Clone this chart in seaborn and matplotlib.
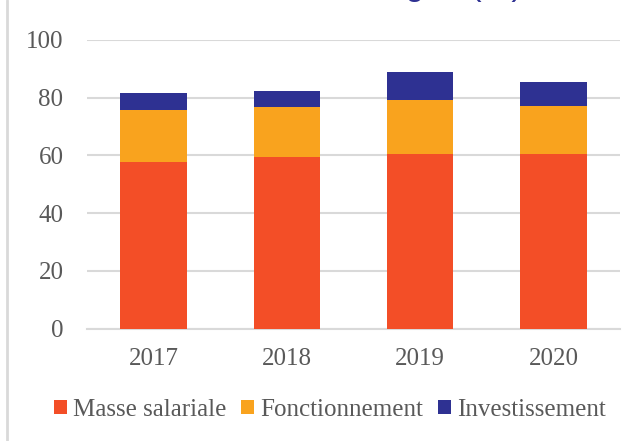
import matplotlib
matplotlib.use("Agg")
import matplotlib.pyplot as plt
import seaborn as sns
import pandas as pd
import numpy as np
from matplotlib.lines import Line2D
from matplotlib.patches import Patch

years = ["2017", "2018", "2019", "2020"]
masse = [57.8, 59.5, 60.5, 60.5]
fonct = [17.9, 17.2, 18.7, 16.7]
invest = [5.8, 5.8, 9.6, 8.1]
series_names = ["Masse salariale", "Fonctionnement", "Investissement"]
colors = ["#F34E27", "#F9A31E", "#2E3192"]
yticks = [0, 20, 40, 60, 80, 100]

sns.set_theme(style="white")
plt.rcParams["font.family"] = ["Liberation Serif", "DejaVu Serif"]

fig = plt.figure(figsize=(6.38, 4.41), dpi=100)
ax = fig.add_axes([87/638, 1-328.7/441, (620-87)/638, (328.7-40)/441])

df = pd.DataFrame({"year": years, "m": masse, "f": fonct, "i": invest})
df["c1"] = df["m"]
df["c2"] = df["m"] + df["f"]
df["c3"] = df["m"] + df["f"] + df["i"]

for col, color in zip(["c3", "c2", "c1"], colors[::-1]):
    sns.barplot(data=df, x="year", y=col, color=color, width=0.5,
                saturation=1, ax=ax, zorder=3, linewidth=0)

ax.set_ylim(0, 100)
ax.set_xlim(-0.5, 3.5)
ax.set_yticks(yticks)
ax.set_yticklabels([str(t) for t in yticks])
ax.yaxis.grid(True, color="#D9D9D9", linewidth=1.5, zorder=0)
ax.set_axisbelow(True)
for s in ["top", "right", "left"]:
    ax.spines[s].set_visible(False)
ax.spines["bottom"].set_color("#D9D9D9")
ax.spines["bottom"].set_linewidth(1.5)
ax.set_xlabel("")
ax.set_ylabel("")
ax.tick_params(axis="y", length=0, pad=17, labelsize=18, labelcolor="#595959")
ax.tick_params(axis="x", length=0, pad=14, labelsize=18, labelcolor="#595959")

handles = [Patch(facecolor=c, edgecolor="none", label=n) for c, n in zip(colors, series_names)]
fig.legend(handles=handles, loc="center", bbox_to_anchor=(330/638, 1-410/441),
           ncol=3, frameon=False, fontsize=18, labelcolor="#595959",
           handlelength=0.52, handleheight=0.52, handletextpad=0.24,
           columnspacing=0.6, borderpad=0, borderaxespad=0)

# left chart-frame border
fig.add_artist(Line2D([7/638, 7/638], [0, 1], transform=fig.transFigure,
                      color="#D9D9D9", linewidth=2))

# cropped title (only the bottom part is visible, as in the reference)
fig.text(523/638, 1 + 5.5/441, "Structure de la charge   (%)",
         ha="right", va="baseline", fontsize=24, color="#2E3192",
         family=["Liberation Sans", "DejaVu Sans"])

fig.savefig("out.png", dpi=100)
